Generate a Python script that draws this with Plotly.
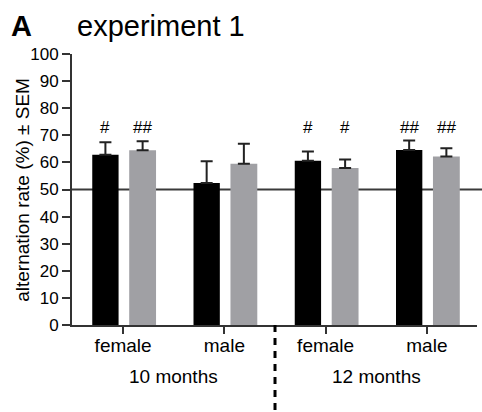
import plotly.graph_objects as go

categories = ["female", "male", "female", "male"]
groups = ["10 months", "12 months"]
series1_values = [62.8, 52.4, 60.6, 64.6]
series1_sem = [4.6, 8.0, 3.4, 3.5]
series2_values = [64.5, 59.5, 57.9, 62.2]
series2_sem = [3.3, 7.4, 3.2, 3.0]
series1_marks = ["#", "", "#", "##"]
series2_marks = ["##", "", "#", "##"]
y_ticks = list(range(0, 101, 10))
chance_level = 50
mark_level = 73

FONT = "Arial, Liberation Sans, sans-serif"
AX = "#333333"
x = list(range(len(categories)))

fig = go.Figure()
fig.add_trace(go.Bar(
    x=x, y=series1_values, width=0.26, offset=-0.305,
    marker=dict(color="#000000", line=dict(width=0)),
    error_y=dict(type="data", symmetric=False, array=series1_sem,
                 arrayminus=[0] * 4, color="#222222", thickness=2, width=6),
))
fig.add_trace(go.Bar(
    x=x, y=series2_values, width=0.265, offset=0.06,
    marker=dict(color="#a0a0a4", line=dict(width=0)),
    error_y=dict(type="data", symmetric=False, array=series2_sem,
                 arrayminus=[0] * 4, color="#222222", thickness=2, width=6),
))

annotations = []
for i in x:
    for off, m in ((-0.175, series1_marks[i]), (0.193, series2_marks[i])):
        if m:
            annotations.append(dict(x=i + off, y=mark_level, text=m, showarrow=False,
                                    xref="x", yref="y", font=dict(family=FONT, size=17, color="#000"),
                                    yanchor="middle"))
for gi, g in enumerate(groups):
    annotations.append(dict(x=0.5 + 2 * gi, y=-0.19, xref="x", yref="paper", text=g,
                            showarrow=False, yanchor="middle",
                            font=dict(family=FONT, size=19, color="#000")))
annotations.append(dict(x=-0.155, y=1.0, xref="paper", yref="paper", yshift=28, xanchor="left",
                        yanchor="middle", text="<b>A</b>", showarrow=False,
                        font=dict(family=FONT, size=29, color="#000")))
annotations.append(dict(x=0.008, y=1.0, xref="paper", yref="paper", yshift=28, xanchor="left",
                        yanchor="middle", text="experiment 1", showarrow=False,
                        font=dict(family=FONT, size=29, color="#000")))
annotations.append(dict(x=-0.124, y=0.498, xref="paper", yref="paper", xanchor="center",
                        yanchor="middle", textangle=-90, text="alternation rate (%) ± SEM",
                        showarrow=False, font=dict(family=FONT, size=19, color="#000")))

fig.update_layout(
    width=482, height=412,
    margin=dict(l=72, r=5, t=54, b=87),
    paper_bgcolor="white", plot_bgcolor="white",
    barmode="overlay", showlegend=False,
    font=dict(family=FONT, color="#000"),
    annotations=annotations,
    xaxis=dict(range=[-0.505, 3.495], tickvals=x, ticktext=categories,
               showline=True, linecolor=AX, linewidth=2, ticks="outside",
               tickcolor=AX, tickwidth=2, ticklen=7, showgrid=False, zeroline=False,
               ticklabelstandoff=-5,
               tickfont=dict(family=FONT, size=19, color="#000")),
    yaxis=dict(range=[0, 100], tickvals=y_ticks, showline=True, linecolor=AX,
               linewidth=2, ticks="outside", tickcolor=AX, tickwidth=2, ticklen=8,
               showgrid=False, zeroline=False,
               tickfont=dict(family=FONT, size=17, color="#000")),
    shapes=[
        dict(type="line", xref="paper", yref="y", x0=0, x1=1.02, y0=chance_level, y1=chance_level,
             line=dict(color="#3a3a3a", width=2), layer="below"),
        dict(type="line", xref="x", yref="paper", x0=1.5, x1=1.5, y0=0, y1=-0.33,
             line=dict(color="#000", width=3, dash="7px,6px")),
    ],
)
fig.write_html("out.html")
